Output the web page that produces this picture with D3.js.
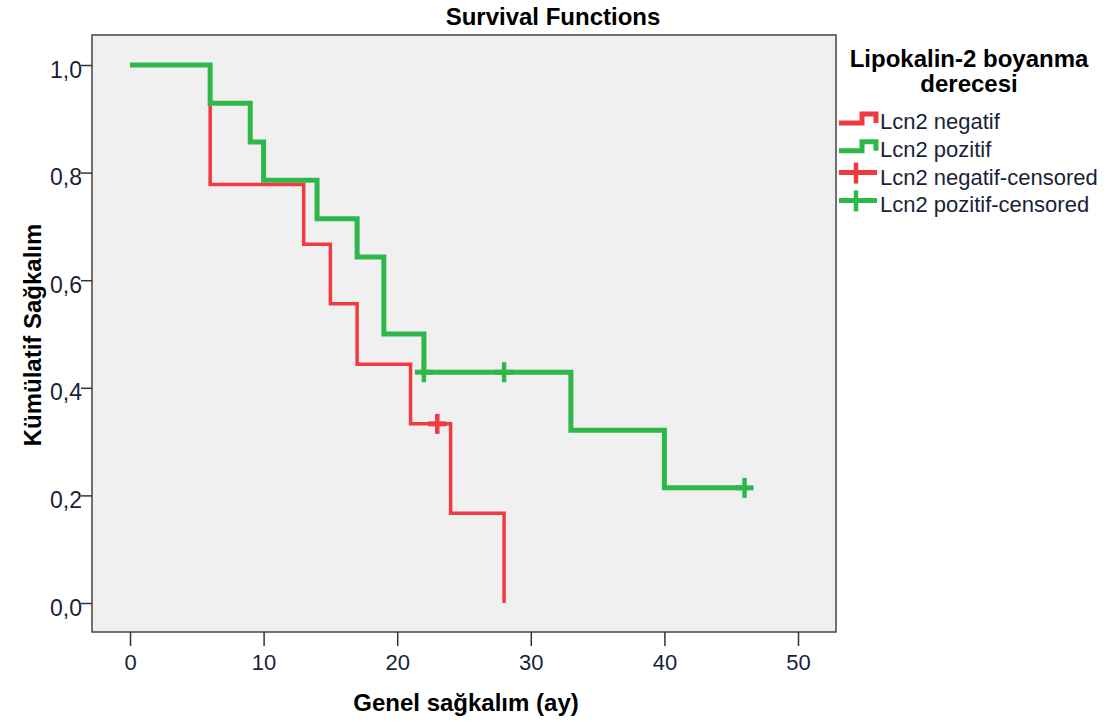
<!DOCTYPE html>
<html>
<head>
<meta charset="utf-8">
<script src="https://cdn.jsdelivr.net/npm/d3@7"></script>
<style>
  body { margin: 0; background: #fff; }
  svg text { font-family: "Liberation Sans", Arial, sans-serif; }
</style>
</head>
<body>
<div id="chart"></div>
<script>
// Kaplan-Meier steps: [time, survival after time]
var negatifSteps = [[0, 1], [6, 0.778], [13, 0.667], [15, 0.556], [17, 0.444], [21, 0.333], [24, 0.167], [28, 0]];
var negatifEnd = 28;
var negatifCensored = [[23, 0.333]];

var pozitifSteps = [[0, 1], [6, 0.929], [9, 0.857], [10, 0.786], [14, 0.714], [17, 0.643], [19, 0.5], [22, 0.429], [33, 0.321], [40, 0.214]];
var pozitifEnd = 46;
var pozitifCensored = [[22, 0.429], [28, 0.429], [46, 0.214]];

var xTicks = [0, 10, 20, 30, 40, 50];
var yTicks = [0, 0.2, 0.4, 0.6, 0.8, 1.0];
var legendItems = ["Lcn2 negatif", "Lcn2 pozitif", "Lcn2 negatif-censored", "Lcn2 pozitif-censored"];

var red = "#f03a40", green = "#2fb84a";
var textColor = "#1a1f3a";

var W = 1113, H = 722;
var frame = { left: 92, top: 35, right: 836, bottom: 632 };

var svg = d3.select('#chart').append('svg')
  .attr('width', W)
  .attr('height', H)

var x = d3.scaleLinear().domain([0, 50]).range([130, 798])
var y = d3.scaleLinear().domain([0, 1]).range([603, 65])

// plot background
svg.append('rect')
  .attr('x', frame.left)
  .attr('y', frame.top)
  .attr('width', frame.right - frame.left)
  .attr('height', frame.bottom - frame.top)
  .attr('fill', '#f0f0f0')
  .attr('stroke', '#444')
  .attr('stroke-width', 1.5)

// axes
var xAxis = svg.append('g')
  .attr('transform', 'translate(0,' + frame.bottom + ')')
  .call(d3.axisBottom(x).tickValues(xTicks).tickSize(14).tickSizeOuter(0).tickFormat(d3.format('d')))
var yAxis = svg.append('g')
  .attr('transform', 'translate(' + frame.left + ',0)')
  .call(d3.axisLeft(y).tickValues(yTicks).tickSize(11).tickSizeOuter(0)
    .tickFormat(function(d){ return d.toFixed(1).replace('.', ','); }))

svg.selectAll('.domain').remove()
svg.selectAll('.tick line').attr('stroke', '#333').attr('stroke-width', 1.5)
xAxis.selectAll('.tick text')
  .attr('dy', 0).attr('y', 38)
  .attr('font-size', '22px').attr('fill', textColor)
yAxis.selectAll('.tick text')
  .attr('x', -10).attr('dy', 12)
  .attr('font-size', '23px').attr('fill', textColor)

// step path builder
var stepLine = function(steps, end){
  var pts = [];
  steps.forEach(function(s, i){
    if (i > 0) pts.push([s[0], steps[i-1][1]]);
    pts.push([s[0], s[1]]);
  });
  var last = steps[steps.length - 1];
  if (end > last[0]) pts.push([end, last[1]]);
  return d3.line().x(function(d){ return x(d[0]); }).y(function(d){ return y(d[1]); })(pts);
}

var curves = svg.append('g')

curves.append('path')
  .attr('d', stepLine(negatifSteps, negatifEnd))
  .attr('fill', 'none')
  .attr('stroke', red)
  .attr('stroke-width', 3.5)

curves.append('path')
  .attr('d', stepLine(pozitifSteps, pozitifEnd))
  .attr('fill', 'none')
  .attr('stroke', green)
  .attr('stroke-width', 5)

var censorMark = function(data, color){
  var g = curves.selectAll(null).data(data).enter().append('g')
  g.append('line')
    .attr('x1', function(d){ return x(d[0]) - 9; })
    .attr('x2', function(d){ return x(d[0]) + 9; })
    .attr('y1', function(d){ return y(d[1]); })
    .attr('y2', function(d){ return y(d[1]); })
    .attr('stroke', color).attr('stroke-width', 5)
  g.append('line')
    .attr('x1', function(d){ return x(d[0]); })
    .attr('x2', function(d){ return x(d[0]); })
    .attr('y1', function(d){ return y(d[1]) - 10; })
    .attr('y2', function(d){ return y(d[1]) + 10; })
    .attr('stroke', color).attr('stroke-width', 4.5)
}
censorMark(negatifCensored, red)
censorMark(pozitifCensored, green)

// titles
svg.append('text')
  .attr('x', 553).attr('y', 25)
  .attr('text-anchor', 'middle')
  .attr('font-size', '24px').attr('font-weight', 'bold')
  .text('Survival Functions')

svg.append('text')
  .attr('x', 466).attr('y', 711)
  .attr('text-anchor', 'middle')
  .attr('font-size', '24px').attr('font-weight', 'bold')
  .text('Genel sağkalım (ay)')

svg.append('text')
  .attr('transform', 'translate(41,335) rotate(-90)')
  .attr('text-anchor', 'middle')
  .attr('font-size', '24px').attr('font-weight', 'bold')
  .text('Kümülatif Sağkalım')

// legend
var legend = svg.append('g')
legend.selectAll(null)
  .data(['Lipokalin-2 boyanma', 'derecesi']).enter().append('text')
  .attr('x', 969)
  .attr('y', function(d,i){ return 67 + i * 25; })
  .attr('text-anchor', 'middle')
  .attr('font-size', '24px').attr('font-weight', 'bold')
  .text(function(d){ return d; })

var legendColors = [red, green, red, green];
var base = function(i){ return 129 + i * 27.8; };

legend.selectAll('.lgStep')
  .data(legendItems.slice(0, 2)).enter().append('path')
  .attr('class', 'lgStep')
  .attr('d', function(d,i){
    var b = base(i);
    return 'M839,' + (b - 6) + 'H862V' + (b - 15) + 'H876V' + (b - 6);
  })
  .attr('fill', 'none')
  .attr('stroke', function(d,i){ return legendColors[i]; })
  .attr('stroke-width', 5)

var lgCross = legend.selectAll('.lgCross')
  .data(legendItems.slice(2)).enter().append('g')
  .attr('class', 'lgCross')
lgCross.append('line')
  .attr('x1', 839).attr('x2', 877)
  .attr('y1', function(d,i){ return base(i + 2) - 12; })
  .attr('y2', function(d,i){ return base(i + 2) - 12; })
  .attr('stroke', function(d,i){ return legendColors[i + 2]; })
  .attr('stroke-width', 5)
lgCross.append('line')
  .attr('x1', 856).attr('x2', 856)
  .attr('y1', function(d,i){ return base(i + 2) - 22; })
  .attr('y2', function(d,i){ return base(i + 2) - 1; })
  .attr('stroke', function(d,i){ return legendColors[i + 2]; })
  .attr('stroke-width', 4.5)

legend.selectAll('.lgText')
  .data(legendItems).enter().append('text')
  .attr('class', 'lgText')
  .attr('x', 880)
  .attr('y', function(d,i){ return base(i); })
  .attr('font-size', '22px').attr('fill', textColor)
  .text(function(d){ return d; })
</script>
</body>
</html>
